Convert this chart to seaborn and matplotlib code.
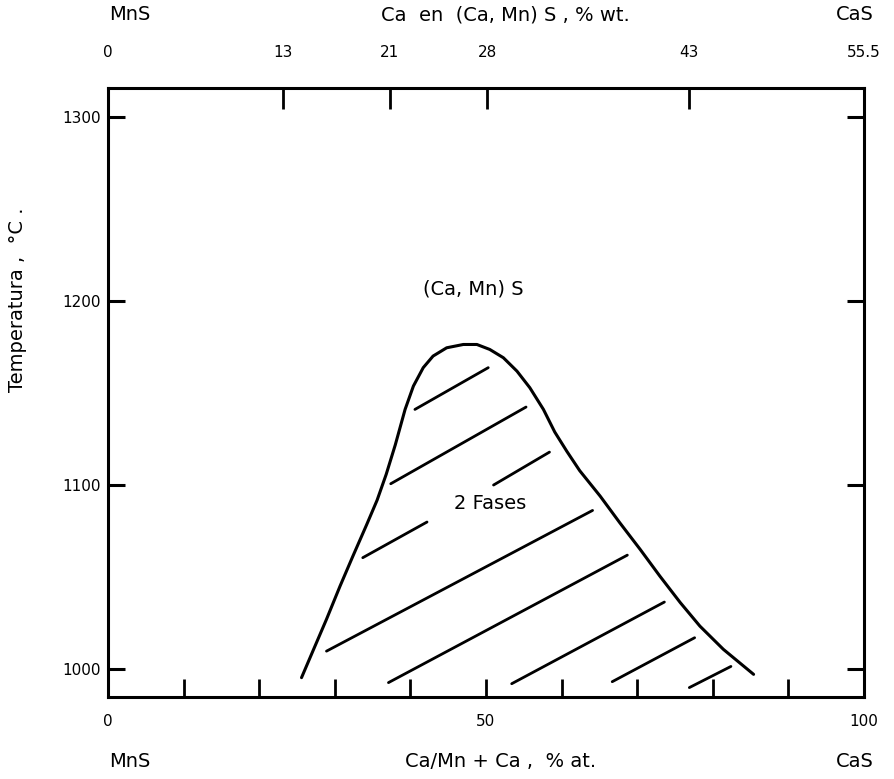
#!/usr/bin/env python3
"""MnS-CaS pseudo-binary diagram: miscibility gap of (Ca,Mn)S."""

import matplotlib

matplotlib.use("Agg")
import matplotlib.pyplot as plt
import pandas as pd
import seaborn as sns

# solvus boundary, x = Ca/(Mn+Ca) at.%, T in degC
curve_x = [25.6, 27.2, 28.9, 30.7, 32.4, 34.2, 35.6, 36.8, 38.0, 39.3, 40.4,
           41.7, 43.0, 44.8, 47.0, 48.8, 50.5, 52.3, 54.1, 55.8, 57.6, 59.1,
           60.7, 62.4, 65.1, 67.7, 70.4, 73.0, 75.7, 78.3, 81.4, 85.4]
curve_t = [995.5, 1010.9, 1027.2, 1045.3, 1061.6, 1078.5, 1092.0, 1106.0,
           1122.0, 1141.3, 1154.0, 1164.0, 1170.3, 1174.8, 1176.6, 1176.6,
           1173.9, 1169.4, 1162.1, 1153.1, 1141.3, 1129.0, 1118.5, 1108.0,
           1094.2, 1079.7, 1065.2, 1050.7, 1036.3, 1023.5, 1010.9, 997.3]

# tie-line hatching inside the two-phase field (start/end points)
tie_x0 = [40.6, 37.4, 33.7, 51.0, 28.9, 37.1, 53.4, 66.7, 76.9]
tie_t0 = [1141.3, 1100.9, 1060.7, 1100.2, 1009.9, 992.8, 992.2, 993.3, 990.1]
tie_x1 = [50.3, 55.3, 42.2, 58.4, 64.1, 68.7, 73.6, 77.6, 82.4]
tie_t1 = [1164.0, 1142.6, 1080.1, 1118.1, 1086.4, 1062.1, 1036.6, 1017.2, 1001.6]

# bottom axis (at.%) and top axis (wt.% Ca, placed at matching at.%)
bottom_ticks = [0, 10, 20, 30, 40, 50, 60, 70, 80, 90, 100]
bottom_labels = ["0", "", "", "", "", "50", "", "", "", "", "100"]
top_ticks = [0, 23.2, 37.3, 50.2, 76.8, 100]
top_labels = ["0", "13", "21", "28", "43", "55.5"]
temp_ticks = [1000, 1100, 1200, 1300]

sns.set_theme(style="white")
plt.rcParams["font.family"] = ["DejaVu Sans"]
plt.rcParams["text.color"] = "black"

fig = plt.figure(figsize=(8.94, 7.79), dpi=100)
ax = fig.add_axes([0.1208, 0.1053, 0.8456, 0.7817])

curve_df = pd.DataFrame({"x": curve_x, "t": curve_t})
sns.lineplot(data=curve_df, x="x", y="t", sort=False, color="black",
             linewidth=2.2, ax=ax)

rows = []
for i in range(len(tie_x0)):
    rows.append({"seg": i, "x": tie_x0[i], "t": tie_t0[i]})
    rows.append({"seg": i, "x": tie_x1[i], "t": tie_t1[i]})
tie_df = pd.DataFrame(rows)
sns.lineplot(data=tie_df, x="x", y="t", units="seg", estimator=None,
             sort=False, color="black", linewidth=2.0, ax=ax)

ax.set_xlim(0, 100)
ax.set_ylim(985, 1316)
ax.set_xlabel("")
ax.set_ylabel("")

for side in ax.spines.values():
    side.set_color("black")
    side.set_linewidth(2.2)

ax.set_xticks(bottom_ticks)
ax.set_xticklabels(bottom_labels)
ax.set_yticks(temp_ticks)
ax.set_yticklabels([str(v) for v in temp_ticks])
ax.tick_params(axis="x", direction="in", length=13, width=2, pad=12,
               labelsize=11, colors="black", bottom=True)
ax.tick_params(axis="y", direction="in", length=12, width=2.2, pad=5,
               labelsize=11, colors="black", left=True, right=True)

top = ax.twiny()
top.set_xlim(0, 100)
top.set_xticks(top_ticks)
top.set_xticklabels(top_labels)
top.tick_params(axis="x", direction="in", length=15, width=2, pad=20,
                labelsize=11, colors="black", top=True)
for side in top.spines.values():
    side.set_visible(False)
top.grid(False)

ax.text(48.3, 1207, "(Ca, Mn) S", ha="center", va="center", fontsize=14,
        color="black")
ax.text(50.5, 1090, "2 Fases", ha="center", va="center", fontsize=14,
        color="black")

fig.text(0.145, 0.981, "MnS", ha="center", va="center", fontsize=14)
fig.text(0.565, 0.981, "Ca  en  (Ca, Mn) S , % wt.", ha="center", va="center",
         fontsize=14)
fig.text(0.956, 0.981, "CaS", ha="center", va="center", fontsize=14)

fig.text(0.145, 0.022, "MnS", ha="center", va="center", fontsize=14)
fig.text(0.56, 0.022, "Ca/Mn + Ca ,  % at.", ha="center", va="center",
         fontsize=14)
fig.text(0.956, 0.022, "CaS", ha="center", va="center", fontsize=14)

fig.text(0.02, 0.615, "Temperatura ,  °C .", rotation=90, ha="center",
         va="center", fontsize=14)

fig.savefig("out.png", dpi=100)
